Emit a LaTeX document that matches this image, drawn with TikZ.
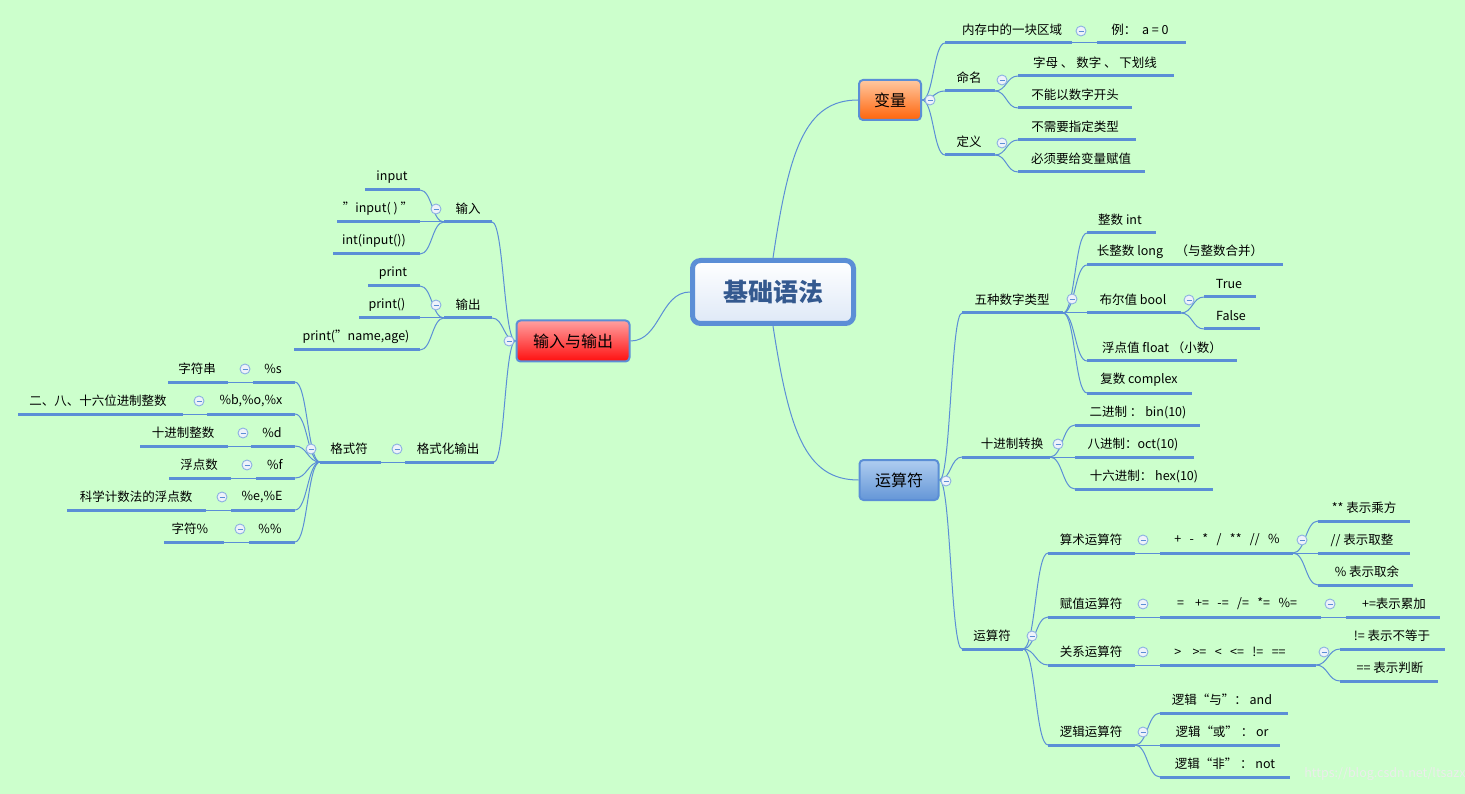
\documentclass[tikz,border=0pt]{standalone}
\usepackage{fontspec}
\setmainfont{Noto Sans CJK SC}
\usetikzlibrary{calc}
\definecolor{bg}{HTML}{CCFFCC}
\definecolor{ln}{HTML}{5B8ED6}
\definecolor{mkf}{HTML}{EEF2FA}
\tikzset{
 ul/.style={draw=ln,line width=3pt},
 conn/.style={draw=ln,line width=1pt},
 txt/.style={inner sep=0pt,font=\fontsize{12.5}{14}\selectfont,text=black},
 mk/.style={draw=ln!70,fill=mkf,line width=0.9pt},
 box/.style={draw=ln,line width=2pt,rounded corners=4pt,font=\fontsize{16}{18}\selectfont,inner sep=0pt}
}
\newcommand\qq{\symbol{34}}
\newcommand\T[6]{%
 \draw[ul] (#2,#4) coordinate(#1l) -- (#3,#4) coordinate(#1r);
 \node[txt] (#1) at (#5,#4-13) {#6};}
\newcommand\C[2]{\path ($(#1)!0.5!(#2)$) coordinate (mm);
 \draw[conn] (#1) .. controls (mm |- #1) and (mm |- #2) .. (#2);}
\newcommand\M[2]{\draw[mk] (#1,#2) circle (5);
 \draw[ln,line width=0.8pt] (#1-2.5,#2) -- (#1+2.5,#2);}
\begin{document}
\begin{tikzpicture}[x=1pt,y=-1pt]
\fill[bg] (0,0) rectangle (1465,794);
\useasboundingbox (0,0) rectangle (1465,794);
% main boxes
\node[draw=ln,line width=5pt,rounded corners=8pt,top color=white,bottom color=ln!20,
 minimum width=161pt,minimum height=63pt,inner sep=0pt,
 font=\fontsize{25}{28}\selectfont\bfseries,text={rgb,255:red,52;green,89;blue,143}] (c) at (773,292) {基础语法};
\node[box,top color={rgb,255:red,255;green,200;blue,160},bottom color={rgb,255:red,255;green,100;blue,10},
 minimum width=62pt,minimum height=40pt] (v) at (890,100) {变量};
\node[box,top color={rgb,255:red,175;green,205;blue,240},bottom color={rgb,255:red,100;green,150;blue,215},
 minimum width=79pt,minimum height=40pt] (op) at (899,480) {运算符};
\node[box,top color={rgb,255:red,255;green,160;blue,160},bottom color={rgb,255:red,255;green,15;blue,15},
 minimum width=113pt,minimum height=41pt] (io) at (573,341) {输入与输出};
\draw[conn] (c.north) .. controls (789,150) and (805,100) .. (v.west);
\draw[conn] (c.south) .. controls (789,430) and (805,480) .. (op.west);
\C{c.west}{io.east}
% ---- 变量
\T{ncun}{945}{1072}{43}{1012}{内存中的一块区域}
\T{nli}{1097}{1186}{43}{1140}{例：\ \ a\ =\ 0}
\T{nming}{945}{995}{91}{969}{命名}
\T{nzm}{1018}{1174}{76}{1095}{字母 、 数字 、 下划线}
\T{nbn}{1018}{1132}{108}{1075}{不能以数字开头}
\T{ndy}{945}{995}{155}{969}{定义}
\T{nbx}{1018}{1136}{140}{1075}{不需要指定类型}
\T{nbs}{1018}{1145}{172}{1081}{必须要给变量赋值}
\C{v.east}{ncunl}\C{v.east}{nmingl}\C{v.east}{ndyl}
\C{ncunr}{nlil}
\C{nmingr}{nzml}\C{nmingr}{nbnl}
\C{ndyr}{nbxl}\C{ndyr}{nbsl}
\M{930}{100}\M{1081}{31}\M{1002}{80}\M{1002}{143}
% ---- 运算符
\T{w}{962}{1063}{313}{1012}{五种数字类型}
\T{wint}{1087}{1156}{233}{1120}{整数 int}
\T{wlong}{1087}{1283}{265}{1180}{长整数 long\quad （与整数合并）}
\T{wbool}{1087}{1181}{313}{1133}{布尔值 bool}
\T{wtr}{1204}{1256}{297}{1229}{True}
\T{wfa}{1204}{1260}{329}{1231}{False}
\T{wfl}{1087}{1237}{361}{1162}{浮点值 float （小数）}
\T{wcx}{1087}{1192}{393}{1139}{复数 complex}
\C{op.east}{wl}
\C{wr}{wintl}\C{wr}{wlongl}\C{wr}{wbooll}\C{wr}{wfll}\C{wr}{wcxl}
\C{wboolr}{wtrl}\C{wboolr}{wfal}
\M{1072}{299}\M{1189}{300}
\T{s}{962}{1050}{457}{1012}{十进制转换}
\T{sb}{1075}{1200}{425}{1138}{二进制 ： bin(10)}
\T{so}{1075}{1194}{457}{1133}{八进制：oct(10)}
\T{sh}{1075}{1213}{489}{1144}{十六进制： hex(10)}
\C{op.east}{sl}
\C{sr}{sbl}\C{sr}{sol}\C{sr}{shl}
\M{1058}{444}
\T{y}{962}{1023}{649}{992}{运算符}
\C{op.east}{yl}
\T{ya}{1048}{1135}{553}{1091}{算术运算符}
\T{yas}{1160}{1293}{553}{1227}{+\ \ \ -\ \ \ *\ \ \ /\ \ \ **\ \ \ //\ \ \ \%}
\T{ya1}{1318}{1410}{521}{1364}{** 表示乘方}
\T{ya2}{1318}{1410}{553}{1362}{// 表示取整}
\T{ya3}{1318}{1413}{585}{1367}{\% 表示取余}
\T{yb}{1048}{1135}{617}{1091}{赋值运算符}
\T{ybs}{1160}{1321}{617}{1237}{=\ \ \ \ +=\ \ \ -=\ \ \ /=\ \ \ *=\ \ \ \%=}
\T{yb1}{1346}{1440}{617}{1394}{+=表示累加}
\T{yc}{1048}{1135}{665}{1091}{关系运算符}
\T{ycs}{1160}{1316}{665}{1230}{>\ \ \ \ >=\ \ \ <\ \ \ <=\ \ \ !=\ \ \ ==}
\T{yc1}{1340}{1445}{649}{1392}{!= 表示不等于}
\T{yc2}{1340}{1438}{681}{1390}{== 表示判断}
\T{yd}{1048}{1135}{745}{1091}{逻辑运算符}
\T{yd1}{1160}{1288}{713}{1222}{逻辑“与”：\ and}
\T{yd2}{1160}{1280}{745}{1222}{逻辑“或” ：\ or}
\T{yd3}{1160}{1290}{777}{1225}{逻辑“非” ：\ not}
\C{yr}{yal}\C{yr}{ybl}\C{yr}{ycl}\C{yr}{ydl}
\C{yar}{yasl}\C{yasr}{ya1l}\C{yasr}{ya2l}\C{yasr}{ya3l}
\C{ybr}{ybsl}\C{ybsr}{yb1l}
\C{ycr}{ycsl}\C{ycsr}{yc1l}\C{ycsr}{yc2l}
\C{ydr}{yd1l}\C{ydr}{yd2l}\C{ydr}{yd3l}
\M{946}{481}\M{1032}{636}\M{1143}{540}\M{1302}{540}\M{1143}{604}\M{1330}{604}
\M{1143}{652}\M{1324}{652}\M{1143}{732}
% ---- 输入与输出
\T{ia}{444}{492}{222}{468}{输入}
\T{ia1}{365}{420}{190}{392}{input}
\T{ia2}{337}{420}{222}{378}{\qq input( ) \qq}
\T{ia3}{333}{420}{254}{374}{int(input())}
\T{ib}{444}{492}{318}{468}{输出}
\T{ib1}{368}{420}{286}{393}{print}
\T{ib2}{359}{420}{318}{387}{print()}
\T{ib3}{294}{420}{350}{356}{print(\qq name,age)}
\T{ic}{405}{494}{462}{448}{格式化输出}
\T{g}{320}{381}{462}{349}{格式符}
\C{io.west}{iar}\C{io.west}{ibr}\C{io.west}{icr}
\C{ial}{ia1r}\C{ial}{ia2r}\C{ial}{ia3r}
\C{ibl}{ib1r}\C{ibl}{ib2r}\C{ibl}{ib3r}
\C{icl}{gr}
\T{g1}{168}{228}{382}{197}{字符串}
\T{g1s}{253}{295}{382}{273}{\%s}
\T{g2}{18}{183}{414}{98}{二、八、十六位进制整数}
\T{g2s}{207}{295}{414}{251}{\%b,\%o,\%x}
\T{g3}{140}{228}{446}{183}{十进制整数}
\T{g3s}{251}{295}{446}{272}{\%d}
\T{g4}{169}{231}{478}{199}{浮点数}
\T{g4s}{256}{295}{478}{275}{\%f}
\T{g5}{67}{206}{510}{136}{科学计数法的浮点数}
\T{g5s}{231}{295}{510}{262}{\%e,\%E}
\T{g6}{164}{224}{542}{190}{字符\%}
\T{g6s}{249}{295}{542}{270}{\%\%}
\C{gl}{g1sr}\C{gl}{g2sr}\C{gl}{g3sr}\C{gl}{g4sr}\C{gl}{g5sr}\C{gl}{g6sr}
\C{g1sl}{g1r}\C{g2sl}{g2r}\C{g3sl}{g3r}\C{g4sl}{g4r}\C{g5sl}{g5r}\C{g6sl}{g6r}
\M{509}{341}\M{436}{209}\M{436}{305}\M{397}{449}\M{311}{449}
\M{245}{369}\M{199}{401}\M{243}{433}\M{247}{465}\M{222}{497}\M{240}{529}
\node[txt,text=white!85!gray,font=\fontsize{12.5}{14}\selectfont] (wm) at (1385,774) {https://blog.csdn.net/ltsazx};
\end{tikzpicture}
\end{document}
